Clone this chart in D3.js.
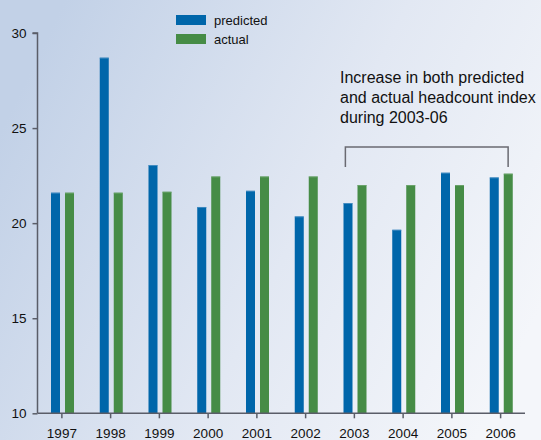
<!DOCTYPE html>
<html><head><meta charset="utf-8">
<script src="https://cdn.jsdelivr.net/npm/d3@7"></script>
<style>html,body{margin:0;padding:0;overflow:hidden;}svg{display:block;font-family:"Liberation Sans",Arial,sans-serif;}</style>
</head><body>
<script>
const years = ["1997","1998","1999","2000","2001","2002","2003","2004","2005","2006"];
const predicted = [21.6, 28.7, 23.05, 20.85, 21.7, 20.35, 21.05, 19.65, 22.65, 22.4];
const actual = [21.6, 21.6, 21.65, 22.45, 22.45, 22.45, 22.0, 22.0, 22.0, 22.6];
const yTicks = [10, 15, 20, 25, 30];
const seriesNames = ["predicted", "actual"];
const colors = ["#0066aa", "#468c46"];
const annotation = ["Increase in both predicted", "and actual headcount index", "during 2003-06"];

const W = 541, H = 440;
const svg = d3.select("body").append("svg").attr("width", W).attr("height", H);
const defs = svg.append("defs");
const grad = defs.append("linearGradient").attr("id","bg").attr("x1","0").attr("y1","0.3").attr("x2","1").attr("y2","0.7");
grad.append("stop").attr("offset","0").attr("stop-color","#c2d1e7");
grad.append("stop").attr("offset","0.55").attr("stop-color","#e2e8f3");
grad.append("stop").attr("offset","1").attr("stop-color","#f4f6fa");
svg.append("rect").attr("width",W).attr("height",H).attr("fill","url(#bg)");

const x = d3.scaleBand().domain(years).range([37.5, 525]).padding(0);
const y = d3.scaleLinear().domain([10, 30]).range([413.3, 33]);

const data = years.map((yr,i)=>({year:yr, values:[predicted[i], actual[i]]}));
const sub = d3.scaleOrdinal().domain([0,1]).range([13.5, 27.5]);
const bw = 9;

const g = svg.append("g");
data.forEach(d=>{
  d.values.forEach((v,k)=>{
    const x0 = x(d.year)+sub(k);
    g.append("rect").attr("x",x0).attr("y",y(v)).attr("width",bw).attr("height",y(10)-y(v)).attr("fill",colors[k]);
    g.append("rect").attr("x",x0).attr("y",y(v)).attr("width",bw).attr("height",0.8).attr("fill", k===0?"#4a90c4":"#6ea66e");
  });
});

// axes
const yAxis = d3.axisLeft(y).tickValues(yTicks).tickSize(5).tickPadding(6);
const ya = svg.append("g").attr("transform","translate(37.5,0)").call(yAxis);
const xAxis = d3.axisBottom(x).tickSize(5).tickPadding(10);
const xa = svg.append("g").attr("transform",`translate(0,${y(10)})`).call(xAxis);
[ya, xa].forEach(a=>{
  a.attr("font-size",13).attr("font-family","Liberation Sans, Arial, sans-serif");
  a.select(".domain").attr("stroke","#5a5d68").attr("stroke-width",1.5);
  a.selectAll(".tick line").attr("stroke","#5a5d68").attr("stroke-width",1.5);
  a.selectAll(".tick text").attr("fill","#111").attr("font-size",13.5);
});
ya.select(".domain").attr("d",`M-5,${y(30)}H0V${y(10)}`);
xa.select(".domain").attr("d",`M37.5,0H525`);

// legend
const leg = svg.append("g");
seriesNames.forEach((n,i)=>{
  leg.append("rect").attr("x",176).attr("y",15+i*19).attr("width",30).attr("height",10).attr("fill",colors[i]);
  leg.append("text").attr("x",214).attr("y",25+i*19).attr("font-size",13).attr("fill","#111").text(n);
});

// annotation
const ann = svg.append("g");
annotation.forEach((t,i)=>{
  ann.append("text").attr("x",340).attr("y",83+i*20).attr("font-size",16).attr("fill","#111").text(t);
});
const bx0 = x("2003")+x.bandwidth()/2 - 9, bx1 = x("2006")+x.bandwidth()/2 + 7.5;
ann.append("path").attr("d",`M${bx0},167V147H${bx1}V167`).attr("fill","none").attr("stroke","#6a6a72").attr("stroke-width",1.5);
</script>
</body></html>
